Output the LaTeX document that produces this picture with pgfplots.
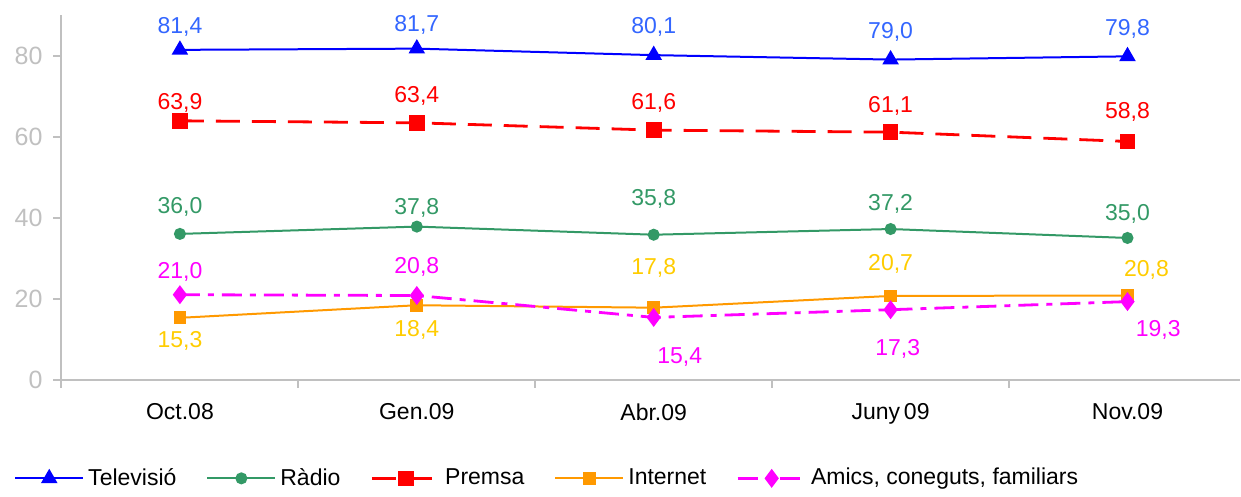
\documentclass[border=0pt]{standalone}
\usepackage{pgfplots}
\pgfplotsset{compat=1.18}
\usepackage{pgfplotstable}
\usepackage{fontspec}
\setmainfont{Liberation Sans}
\definecolor{tvblue}{RGB}{0,0,255}
\definecolor{tvlab}{RGB}{51,102,255}
\definecolor{radgreen}{RGB}{51,153,102}
\definecolor{netorange}{RGB}{255,153,0}
\definecolor{netlab}{RGB}{255,204,0}
\definecolor{amicsmag}{RGB}{255,0,255}
\definecolor{axgray}{RGB}{192,192,192}

\pgfplotstableread{
x tv radio premsa internet amics
0 81.4 36.0 63.9 15.3 21.0
1 81.7 37.8 63.4 18.4 20.8
2 80.1 35.8 61.6 17.8 15.4
3 79.0 37.2 61.1 20.7 17.3
4 79.8 35.0 58.8 20.8 19.3
}\survey

\begin{document}
\fontsize{11.5}{13}\selectfont
\begin{tikzpicture}
\begin{axis}[
    name=ax,
    scale only axis,
    width=589.5pt, height=182.5pt,
    xmin=-0.5, xmax=4.475,
    ymin=0, ymax=90,
    axis x line*=bottom, axis y line*=left,
    axis line style={axgray, line width=1pt},
    xtick={0,1,2,3,4},
    xticklabels={Oct.08, Gen.09, Abr.09, Juny\,09, Nov.09},
    major x tick style={draw=none},
    minor xtick={-0.5,0.5,1.5,2.5,3.5},
    minor tick length=4pt,
    ytick={0,20,40,60,80},
    major tick length=4pt,
    tick align=outside,
    tick style={axgray, line width=1pt},
    /pgf/number format/assume math mode=true,
    xticklabel style={yshift=-4pt, font=\fontsize{11.5}{13}\selectfont},
    yticklabel style={text=axgray, xshift=-1.5pt, font=\fontsize{12.5}{14}\selectfont},
    clip=false,
    legend columns=5,
    legend style={at={(0.413,-0.27)}, anchor=center, draw=none, fill=none,
        font=\fontsize{11.5}{13}\selectfont,
        /tikz/every even column/.append style={column sep=13pt}},
    legend cell align=left,
    legend image code/.code={%
        \draw[mark repeat=2,mark phase=2,#1] plot coordinates {(0pt,0pt)(17pt,0pt)(34pt,0pt)};},
]
\addplot[tvblue, line width=1pt, mark=triangle*, mark size=3.8pt, mark options={solid}]
    table[x=x, y=tv] {\survey};
\addlegendentry{Televisió}
\addplot[radgreen, line width=1pt, mark=*, mark size=2.5pt, mark options={solid}]
    table[x=x, y=radio] {\survey};
\addlegendentry{Ràdio}
\addplot[red, line width=1.4pt, dash pattern=on 12pt off 6pt, mark=square*, mark size=3.2pt, mark options={solid}]
    table[x=x, y=premsa] {\survey};
\addlegendentry{Premsa}
\addplot[netorange, line width=1pt, mark=square*, mark size=2.7pt, mark options={solid}]
    table[x=x, y=internet] {\survey};
\addlegendentry{Internet}
\addplot[amicsmag, line width=1.4pt, dash pattern=on 10pt off 4pt on 3pt off 4pt, mark=diamond*, mark size=3.6pt, mark options={solid}]
    table[x=x, y=amics] {\survey};
\addlegendentry{Amics, coneguts, familiars}

% data labels
\node[tvlab] at (axis cs:0,86.94) {81,4};
\node[tvlab] at (axis cs:1,87.43) {81,7};
\node[tvlab] at (axis cs:2,86.94) {80,1};
\node[tvlab] at (axis cs:3,85.94) {79,0};
\node[tvlab] at (axis cs:4,86.44) {79,8};
\node[red] at (axis cs:0,68.36) {63,9};
\node[red] at (axis cs:1,70.09) {63,4};
\node[red] at (axis cs:2,68.36) {61,6};
\node[red] at (axis cs:3,67.62) {61,1};
\node[red] at (axis cs:4,66.13) {58,8};
\node[radgreen] at (axis cs:0,42.60) {36,0};
\node[radgreen] at (axis cs:1,42.35) {37,8};
\node[radgreen] at (axis cs:2,44.58) {35,8};
\node[radgreen] at (axis cs:3,43.34) {37,2};
\node[radgreen] at (axis cs:4,40.87) {35,0};
\node[amicsmag] at (axis cs:0,26.50) {21,0};
\node[amicsmag] at (axis cs:1,27.74) {20,8};
\node[amicsmag] at (axis cs:2.11,5.70) {15,4};
\node[amicsmag] at (axis cs:3.03,7.68) {17,3};
\node[amicsmag] at (axis cs:4.13,12.38) {19,3};
\node[netlab] at (axis cs:0,9.66) {15,3};
\node[netlab] at (axis cs:1,12.38) {18,4};
\node[netlab] at (axis cs:2,27.49) {17,8};
\node[netlab] at (axis cs:3,28.48) {20,7};
\node[netlab] at (axis cs:4.08,27.0) {20,8};
\end{axis}
\path (ax.south west) ++(-30.75pt,190pt);
\path (ax.south west) ++(589.75pt,-55.5pt);
\end{tikzpicture}
\end{document}
